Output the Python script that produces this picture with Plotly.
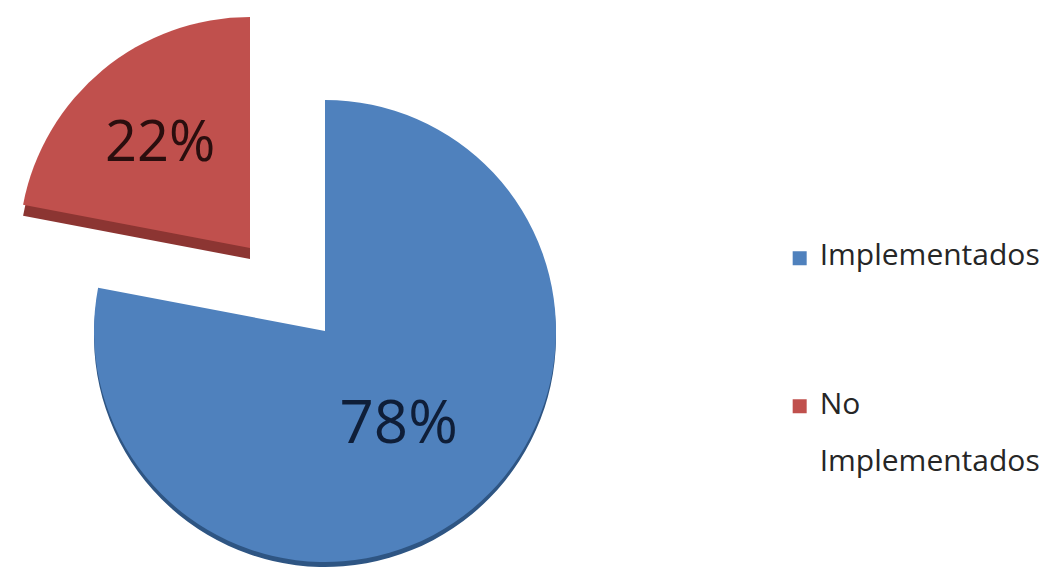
import plotly.graph_objects as go

labels = ["Implementados", "No Implementados"]
legend_text = ["Implementados", "No<br>Implementados"]
values = [78, 22]
colors = ["#4F81BD", "#C0504D"]
dark_colors = ["#2E5583", "#8C3532"]
text_colors = ["#0F1E38", "#2A0E0E"]
CLEAR = "rgba(0,0,0,0)"

# the page body adds an 8px margin, so the figure is sized to fit the window
W, H = 1040, 560

def dom(cx, cy, r, dy=0):
    y0 = max(0.0, 1 - (cy + r + dy) / H)
    y1 = min(1.0, 1 - (cy - r + dy) / H)
    return dict(x=[(cx - r) / W, (cx + r) / W], y=[y0, y1])

R = 231
blue_c = (317, 323)
red_c = (242, 240)

common = dict(values=values, labels=labels, sort=False, direction="clockwise",
              rotation=0, showlegend=False, hoverinfo="skip")

fig = go.Figure()
# depth (3D edges)
fig.add_trace(go.Pie(**common, domain=dom(*red_c, R, 11), textinfo="none",
                     marker=dict(colors=[CLEAR, dark_colors[1]], line=dict(width=0))))
fig.add_trace(go.Pie(**common, domain=dom(*blue_c, R, 5), textinfo="none",
                     marker=dict(colors=[dark_colors[0], CLEAR], line=dict(width=0))))
# faces
fig.add_trace(go.Pie(**common, domain=dom(*red_c, R),
                     marker=dict(colors=[CLEAR, colors[1]], line=dict(width=0)),
                     texttemplate=["", "%{percent:.0%}"], textposition="inside",
                     insidetextorientation="horizontal",
                     textfont=dict(family="Open Sans", size=56, color=text_colors[1])))
fig.add_trace(go.Pie(**common, domain=dom(*blue_c, R),
                     marker=dict(colors=[colors[0], CLEAR], line=dict(width=0)),
                     texttemplate=["%{percent:.0%}", ""], textposition="inside",
                     insidetextorientation="horizontal",
                     textfont=dict(family="Open Sans", size=60, color=text_colors[0])))

# legend entries
for i in range(2):
    fig.add_trace(go.Scatter(x=[None], y=[None], mode="markers",
                             name=f"<span style='font-size:30px;baseline-shift:10px'>{legend_text[i]}</span>",
                             legendgroup=f"g{i}",
                             marker=dict(symbol="square", size=14, color=colors[i])))

fig.update_layout(
    width=W, height=H,
    margin=dict(l=0, r=0, t=0, b=0),
    paper_bgcolor="white", plot_bgcolor="white",
    xaxis=dict(visible=False), yaxis=dict(visible=False),
    legend=dict(x=0.742, y=0.616, xanchor="left", yanchor="top",
                font=dict(family="Open Sans", size=44, color="#262626"),
                traceorder="grouped", tracegroupgap=88, valign="top",
                itemwidth=30, bgcolor="rgba(0,0,0,0)"),
)

fig.write_html("out.html")
